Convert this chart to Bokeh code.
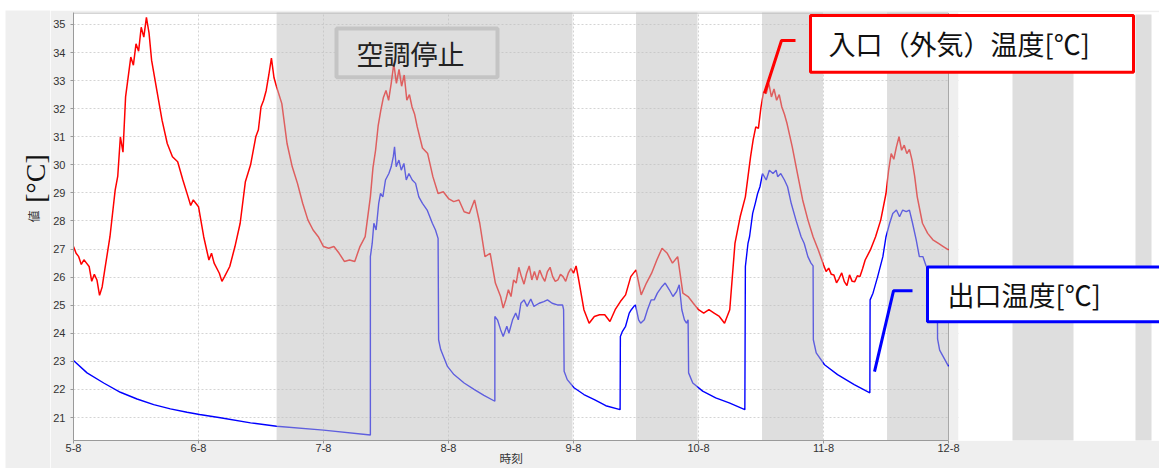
from bokeh.plotting import figure
from bokeh.models import BoxAnnotation, Label, FixedTicker, Range1d, Spacer
from bokeh.layouts import row, column
from bokeh.embed import file_html
from bokeh.resources import INLINE

# ---------------- data ----------------
DAY_TICKS_H = [0, 24, 48, 72, 96, 120, 144, 168]          # hours since 5-8 00:00
DAY_LABELS = ["5-8", "6-8", "7-8", "8-8", "9-8", "10-8", "11-8", "12-8"]
Y_TICKS = list(range(21, 36))

# inlet (outside air) temperature (hours since 5-8 00:00, degC)
inlet_hours = [
    0, 0.5, 1, 1.5, 2, 2.5, 3, 3.5, 4, 4.5, 5, 5.5, 6, 7, 8, 8.5, 9, 9.5, 10,
    11, 11.5, 12, 12.5, 13, 13.5, 14, 14.5, 15, 16, 17, 18, 19, 20, 21, 22, 22.5,
    23, 24, 25, 26, 26.5, 27, 28, 28.5, 29, 30, 31, 32, 33, 34, 35, 35.5, 36,
    36.5, 37, 37.5, 38, 38.5, 39, 40, 41, 42, 43, 44, 45, 46, 47, 48, 49, 50,
    51, 52, 53, 54, 55, 56, 57, 57.5, 58, 58.5, 59, 59.5, 60, 60.5, 61, 61.5,
    62, 62.5, 63, 63.5, 64, 64.5, 65, 65.5, 66, 67, 68, 69, 70, 71, 72, 73, 74,
    75, 76, 77, 78, 79, 80, 81, 82, 82.5, 83, 83.5, 84, 84.5, 85, 85.5, 86,
    86.5, 87, 87.5, 88, 88.5, 89, 89.5, 90, 90.5, 91, 91.5, 92, 92.5, 93, 93.5,
    94, 94.5, 95, 95.5, 96, 96.5, 97, 98, 99, 100, 101, 102, 103, 104, 105,
    106, 107, 108, 109, 110, 111, 112, 113, 114, 115, 116, 117, 118, 119, 120,
    121, 122, 123, 124, 125, 126, 127, 128, 129, 130, 130.5, 131, 131.5, 132,
    132.5, 133, 133.5, 134, 134.5, 135, 135.5, 136, 136.5, 137, 138, 139, 140,
    141, 142, 143, 144, 144.5, 145, 145.5, 146, 146.5, 147, 147.5, 148, 148.5,
    149, 149.5, 150, 150.5, 151, 151.5, 152, 153, 154, 155, 156, 156.5, 157,
    157.5, 158, 158.5, 159, 159.5, 160, 160.5, 161, 161.5, 162, 163, 164, 165,
    166, 167, 168,
]
inlet_temp = [
    27.09, 26.85, 26.73, 26.45, 26.62, 26.50, 26.38, 25.85, 26.10, 25.90, 25.35, 25.65, 26.26, 27.44, 29.10, 29.60, 31.00, 30.45, 32.42,
    33.84, 33.55, 34.31, 34.05, 34.90, 34.55, 35.25, 34.70, 33.72, 32.65, 31.59, 30.76, 30.29, 30.11, 29.46, 28.86, 28.55,
    28.75, 28.51, 27.44, 26.61, 26.85, 26.50, 26.14, 25.85, 26.02, 26.38, 27.09, 27.92, 29.40, 30.00, 31.00, 31.25, 32.06,
    32.30, 32.65, 33.20, 33.80, 33.10, 32.77, 32.18, 30.76, 29.93, 29.34, 28.63, 28.04, 27.68, 27.44, 27.09, 27.03, 27.09,
    26.85, 26.56, 26.61, 26.56, 27.09, 27.44, 28.86, 29.90, 30.52, 31.40, 31.94, 32.40, 32.65, 32.30, 32.90, 33.60,
    32.90, 33.40, 32.80, 33.20, 32.30, 32.50, 32.06, 31.80, 31.35, 30.60, 30.40, 29.58, 28.98, 29.04, 28.80, 28.69, 28.75,
    28.33, 28.27, 28.75, 27.92, 26.73, 26.85, 25.79, 25.31, 24.90, 25.19, 25.55, 25.31, 25.90, 25.79, 26.35, 26.02,
    25.75, 26.14, 26.40, 25.90, 26.20, 25.90, 26.25, 26.02, 25.85, 26.20, 26.35, 26.02, 25.85, 25.90, 26.10,
    26.02, 25.85, 26.14, 26.30, 26.14, 26.40, 25.90, 24.84, 24.36, 24.60, 24.66, 24.66, 24.42, 24.84, 25.13,
    25.37, 26.02, 26.26, 25.37, 25.79, 26.14, 26.61, 27.03, 26.85, 26.50, 26.73, 25.43, 25.31, 25.07, 24.84,
    24.72, 24.84, 24.72, 24.60, 24.36, 24.84, 27.20, 28.15, 28.86, 30.29, 30.90, 31.35, 31.30, 32.06,
    32.60, 32.54, 32.90, 32.42, 32.70, 32.30, 32.50, 32.06, 31.80, 31.47, 30.64, 29.69, 28.75,
    28.04, 27.44, 26.97, 26.44, 26.20, 26.32, 26.10, 26.08, 25.80, 25.96, 26.15, 25.84, 25.70,
    26.08, 25.85, 25.84, 26.05, 26.02, 26.30, 26.61, 26.97, 27.44, 28.04, 28.98, 29.80, 30.40,
    30.20, 30.64, 31.00, 30.52, 30.70, 30.40, 30.55, 30.17, 29.60, 28.86, 27.92, 27.56, 27.33,
    27.21, 27.09, 26.97,
]

# outlet temperature (irregular sampling, hours since 5-8 00:00, degC)
outlet_hours = [
    0, 2.6, 5.8, 9.0, 12.2, 15.4, 18.6, 21.8, 24.2, 28.2, 34.0, 39.0, 48.0, 57.0,
    57.0, 57.35, 57.67, 58.1, 58.6, 58.95, 59.4, 59.9, 60.55, 61.0, 61.4, 61.64,
    61.96, 62.48, 62.93, 63.44, 63.89, 64.4, 65.04, 65.68, 66.3, 67.0, 67.9,
    68.9, 69.5, 70.0, 70.1, 70.5, 71.8, 73.05, 75.0, 76.9, 78.8, 80.9,
    80.9, 81.4, 82.0, 82.5, 83.2, 83.6, 84.3, 84.9, 85.4, 85.9, 86.5, 87.1,
    87.8, 88.4, 89.4, 90.3, 91.0, 91.9, 92.9, 93.9, 94.1, 94.2, 94.8, 96.1,
    98.0, 100.0, 101.2, 102.2, 104.95,
    105.0, 105.4, 106.0, 106.7, 107.1, 107.6, 107.9, 108.5, 108.9, 109.6, 110.2,
    110.9, 111.5, 112.1, 113.0, 113.6, 114.4, 115.1, 115.8, 116.3, 116.8, 117.3,
    117.7, 118.0, 118.1, 118.9, 120.8, 123.3, 125.9, 128.9,
    129.0, 129.5, 129.8, 130.4, 130.9, 131.35, 131.8, 132.3, 133.0, 133.6, 134.3,
    134.9, 135.2, 135.8, 136.5, 137.1, 137.8, 138.7, 139.7, 140.3, 141.0, 141.6,
    142.0, 142.05, 142.6, 144.2, 146.7, 149.9, 152.9,
    152.95, 153.5, 154.4, 155.4, 156.0, 156.7, 157.3, 158.0, 158.6, 159.2, 159.9,
    160.5, 161.1, 161.8, 162.4, 163.1, 163.7, 165.0, 165.85, 165.9, 166.3, 167.3,
    168.0,
]
outlet_temp = [
    23.03, 22.59, 22.23, 21.90, 21.66, 21.46, 21.31, 21.19, 21.11, 20.99, 20.81, 20.69, 20.55, 20.38,
    26.73, 27.20, 27.92, 27.68, 28.63, 28.98, 28.86, 29.46, 29.69, 29.93, 30.29, 30.64,
    29.93, 30.17, 29.81, 30.05, 29.46, 29.69, 29.46, 29.34, 28.86, 28.63, 28.39,
    27.92, 27.68, 27.38, 23.77, 23.42, 22.82, 22.53, 22.23, 22.00, 21.79, 21.58,
    24.60, 24.48, 24.13, 23.89, 24.25, 24.00, 24.48, 24.72, 24.48, 25.07, 25.19, 24.96,
    25.22, 24.96, 25.07, 25.13, 25.19, 25.07, 25.01, 25.01, 24.84, 22.65, 22.35, 22.06,
    21.82, 21.64, 21.52, 21.42, 21.28,
    23.89, 24.07, 24.25, 24.72, 24.84, 24.96, 25.01, 24.48, 24.36, 24.48, 24.84,
    25.19, 25.19, 25.43, 25.67, 25.79, 25.55, 25.31, 25.49, 25.73, 24.84, 24.48,
    24.36, 24.48, 22.59, 22.23, 21.94, 21.70, 21.52, 21.28,
    26.38, 27.20, 27.44, 28.27, 28.63, 28.98, 29.22, 29.69, 29.46, 29.81, 29.69,
    29.81, 29.58, 29.69, 29.46, 29.22, 28.63, 28.04, 27.44, 27.20, 26.73, 26.50,
    26.40, 23.77, 23.30, 22.88, 22.53, 22.17, 21.88,
    25.19, 25.43, 26.02, 26.73, 27.44, 27.92, 28.27, 28.39, 28.15, 28.39, 28.33,
    28.39, 27.92, 27.33, 26.73, 26.73, 26.40, 26.20, 26.00, 23.80, 23.40, 23.06,
    22.82,
]

# air-conditioning stopped periods (hours)
stop_start = [39.0, 108.0, 132.2, 156.2]
stop_end = [95.8, 119.8, 143.9, 167.9]

# ---------------- layout helpers (page pixels -> data) ----------------
FRAME_L, FRAME_T, FRAME_B = 73, 12, 441      # page px of plot frame
PX_PER_H = 875 / 168                          # 5-8 at x=73, 12-8 at x=948
Y0, Y1 = 20.182, 35.426                       # y range shown by the frame
X_END = (1159 - FRAME_L) / PX_PER_H           # frame runs to the right edge of window


def hx(page_x):
    return (page_x - FRAME_L) / PX_PER_H


def vy(page_y):
    return Y1 - (page_y - FRAME_T) * (Y1 - Y0) / (FRAME_B - FRAME_T)


CJK = "Noto Sans CJK JP"
PANEL = "#efefef"

# ---------- left strip with the y unit labels ----------
lf = figure(width=50, height=468, x_range=Range1d(0, 50), y_range=Range1d(468, 0),
            output_backend="svg", toolbar_location=None,
            x_axis_type=None, y_axis_type=None, min_border=0,
            outline_line_color=None, background_fill_color="#ffffff",
            border_fill_color="#ffffff")
lf.quad(left=5, right=50, top=10, bottom=468, fill_color=PANEL, line_color=None)
lf.add_layout(Label(x=35, y=178, text="[°C]", angle=90, angle_units="deg",
                    text_font="Liberation Serif", text_font_size="28px",
                    text_color="#111111", text_align="center", text_baseline="middle"))
lf.add_layout(Label(x=33, y=216, text="値", angle=90, angle_units="deg",
                    text_font=CJK, text_font_size="12px",
                    text_color="#333333", text_align="center", text_baseline="middle"))

# ---------- main chart ----------
p = figure(width=1109, height=458, x_range=Range1d(0, X_END), y_range=Range1d(Y0, Y1),
           output_backend="svg", toolbar_location=None,
           min_border_left=23, min_border_right=0, min_border_top=2, min_border_bottom=27,
           border_fill_color=PANEL, background_fill_color="#ffffff",
           outline_line_color=None)

p.xaxis.ticker = FixedTicker(ticks=DAY_TICKS_H)
p.xaxis.major_label_overrides = {t: lab for t, lab in zip(DAY_TICKS_H, DAY_LABELS)}
p.xaxis.bounds = (DAY_TICKS_H[0], DAY_TICKS_H[-1])
p.yaxis.ticker = FixedTicker(ticks=Y_TICKS)
for ax in (p.xaxis[0], p.yaxis[0]):
    ax.axis_line_color = "#9a9a9a"
    ax.major_tick_line_color = "#9a9a9a"
    ax.major_tick_out = 3
    ax.major_tick_in = 0
    ax.minor_tick_out = 0
    ax.minor_tick_in = 0
    ax.major_label_text_font = "Liberation Sans"
    ax.major_label_text_font_size = "11px"
    ax.major_label_text_color = "#333333"
p.xaxis.major_label_standoff = 0
p.yaxis.major_label_standoff = 5

# x axis title: the frame runs on past 12-8, so ideographic spaces after the
# title keep it centred under the dated part of the axis
p.xaxis.axis_label = "時刻" + "\u3000" * 18
p.xaxis.axis_label_text_font = CJK
p.xaxis.axis_label_text_font_size = "11.7px"
p.xaxis.axis_label_text_font_style = "normal"
p.xaxis.axis_label_text_color = "#333333"
p.xaxis.axis_label_standoff = -6

p.grid.grid_line_color = "#d4d4d4"
p.grid.grid_line_dash = "2 2"

# "空調停止" box (under the shading)
p.add_layout(BoxAnnotation(left=hx(336), right=hx(497), top=vy(28), bottom=vy(77),
                           fill_color="#ffffff", fill_alpha=1.0,
                           line_color="#cbcbcb", line_alpha=1.0, line_width=4,
                           level="underlay"))

# area right of the chart: grey panel edge, then white page with grey stripes
p.quad(left=DAY_TICKS_H[-1], right=hx(958), top=Y1 + 1, bottom=Y0 - 1,
       fill_color=PANEL, line_color=None)
p.quad(left=hx(958), right=X_END + 5, top=Y1 + 1, bottom=Y0 - 1,
       fill_color="#ffffff", line_color=None)
p.quad(left=[hx(1012), hx(1135)], right=[hx(1073), hx(1151)],
       top=[vy(14), vy(14)], bottom=[vy(445), vy(443)],
       fill_color="#dedede", line_color=None)

# frame border (top and right)
p.line([0, DAY_TICKS_H[-1], DAY_TICKS_H[-1]], [vy(12.5), vy(12.5), Y0],
       line_color="#a8a8a8", line_width=1)

# data lines
p.line(inlet_hours, inlet_temp, line_color="#ff0000", line_width=1.5)
p.line(outlet_hours, outlet_temp, line_color="#0000ff", line_width=1.4)

# AC-stopped shading drawn over the lines
p.quad(left=stop_start, right=stop_end, top=Y1 + 1, bottom=Y0 - 1,
       fill_color="#bdbdbd", fill_alpha=0.5, line_color=None)

# leader lines of the callouts
p.line([hx(795), hx(781), hx(764)], [vy(40), vy(40), vy(93)],
       line_color="#ff0000", line_width=3)
p.line([hx(912), hx(893), hx(874)], [vy(291), vy(291), vy(372)],
       line_color="#0000ff", line_width=3)

# callout boxes
p.add_layout(BoxAnnotation(left=hx(810), right=hx(1133), top=vy(15), bottom=vy(72),
                           fill_color="#ffffff", fill_alpha=1.0,
                           line_color="#ff0000", line_alpha=1.0, line_width=3))
p.add_layout(BoxAnnotation(left=hx(927), right=hx(1185), top=vy(267), bottom=vy(322),
                           fill_color="#ffffff", fill_alpha=1.0,
                           line_color="#0000ff", line_alpha=1.0, line_width=3))

p.add_layout(Label(x=hx(828), y=vy(43), text="入口（外気）温度[℃]",
                   text_font=CJK, text_font_size="27px", text_color="#111111",
                   text_align="left", text_baseline="middle"))
p.add_layout(Label(x=hx(947), y=vy(295), text="出口温度[℃]",
                   text_font=CJK, text_font_size="27px", text_color="#111111",
                   text_align="left", text_baseline="middle"))
p.add_layout(Label(x=hx(410), y=vy(53), text="空調停止",
                   text_font=CJK, text_font_size="27px", text_color="#222222",
                   text_align="center", text_baseline="middle"))

layout = row(lf, column(Spacer(width=1109, height=10), p))
open("out.html", "w").write(file_html(layout, INLINE))
